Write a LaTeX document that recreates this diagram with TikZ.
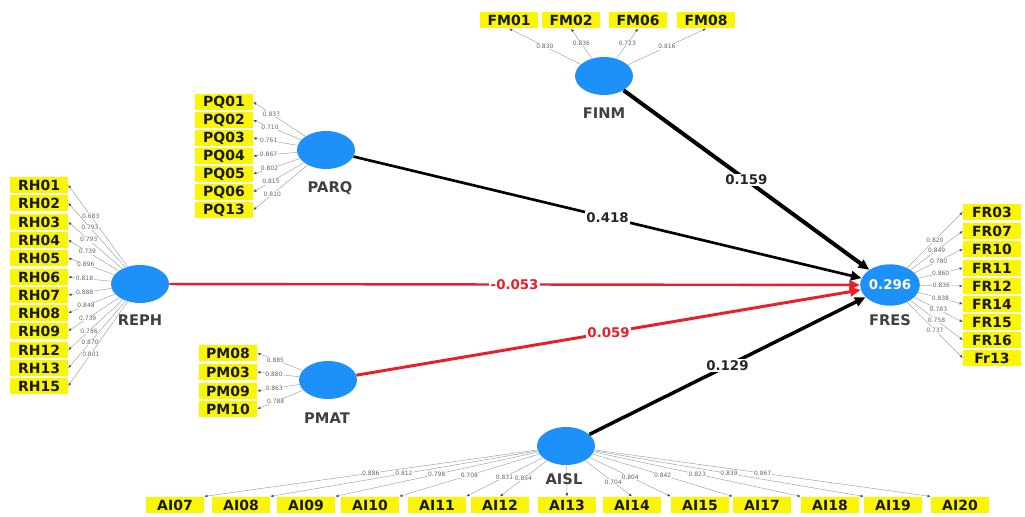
\documentclass[tikz,border=0pt]{standalone}
\usepackage{fontspec}
\setmainfont{DejaVu Sans}
\usetikzlibrary{arrows.meta,shapes.geometric}
\definecolor{lvblue}{RGB}{30,144,250}
\definecolor{mvyellow}{RGB}{250,245,0}
\definecolor{ldgray}{RGB}{160,160,165}
\definecolor{pathred}{RGB}{235,30,40}
\tikzset{
 lv/.style={ellipse, fill=lvblue, minimum width=43.5pt, minimum height=28.5pt, inner sep=0},
 mv/.style={rectangle, fill=mvyellow, minimum width=43.5pt, minimum height=12.5pt, inner sep=0,
   font=\fontsize{10.5}{12}\selectfont\bfseries, text=black!90},
 lvname/.style={font=\fontsize{11}{13}\selectfont\bfseries, text=black!75},
 ldline/.style={draw=ldgray, line width=0.35pt, -{Latex[length=2.4pt,width=2pt,color=black!70]}},
 ldlab/.style={font=\fontsize{4.5}{5}\selectfont, text=black!60, fill=white, inner sep=0.4pt},
 structarrow/.style={-{Triangle[length=8pt,width=7pt]}},
 coef/.style={font=\fontsize{10}{12}\selectfont\bfseries, fill=white, inner sep=1pt, text=black!85}
}
\begin{document}
\begin{tikzpicture}[x=0.75pt,y=-0.75pt]
\useasboundingbox (0,0) rectangle (1025,517);
\fill[white] (0,0) rectangle (1025,517);

% latent variables
\node[lv] (FINM) at (604,76) {};
\node[lv] (PARQ) at (326,150) {};
\node[lv] (REPH) at (140,284) {};
\node[lv, minimum width=39pt, minimum height=31pt, font=\fontsize{10}{12}\selectfont\bfseries, text=white] (FRES) at (890,285) {0.296};
\node[lv] (PMAT) at (328,380) {};
\node[lv] (AISL) at (566,446) {};

\node[lvname] (FINMn) at (604,113) {FINM};
\node[lvname] (PARQn) at (330,188) {PARQ};
\node[lvname] (REPHn) at (140,320) {REPH};
\node[lvname] (FRESn) at (890,320) {FRES};
\node[lvname] (PMATn) at (327,418) {PMAT};

% indicators
\foreach \n/\x in {FM01/509, FM02/571, FM06/638, FM08/706}
  \node[mv] (\n) at (\x,20) {\n};
\foreach \n/\y in {PQ01/102, PQ02/120, PQ03/138, PQ04/156, PQ05/174, PQ06/192, PQ13/210}
  \node[mv] (\n) at (224,\y) {\n};
\foreach \n/\y in {RH01/185, RH02/203, RH03/222, RH04/240, RH05/258, RH06/277, RH07/295, RH08/313, RH09/331, RH12/350, RH13/368, RH15/386}
  \node[mv] (\n) at (39,\y) {\n};
\foreach \n/\t/\y in {FR03/FR03/212, FR07/FR07/231, FR10/FR10/249, FR11/FR11/268, FR12/FR12/286, FR14/FR14/304, FR15/FR15/322, FR16/FR16/340, Fr13/Fr13/358}
  \node[mv] (\n) at (992,\y) {\t};
\foreach \n/\y in {PM08/353, PM03/372, PM09/391, PM10/409}
  \node[mv] (\n) at (228,\y) {\n};
\foreach \n/\x in {AI07/175, AI08/241, AI09/306, AI10/370, AI11/437, AI12/500, AI13/567, AI14/632, AI15/700, AI17/762, AI18/830, AI19/893, AI20/960}
  \node[mv] (\n) at (\x,505) {\n};

% outer loadings
\foreach \n/\v in {FM01/0.830, FM02/0.836, FM06/0.723, FM08/0.816}
  \draw[ldline] (FINM) -- node[ldlab, pos=0.5] {\v} (\n.south);
\foreach \n/\v in {PQ01/0.837, PQ02/0.710, PQ03/0.761, PQ04/0.867, PQ05/0.802, PQ06/0.815, PQ13/0.810}
  \draw[ldline] (PARQ) -- node[ldlab, pos=0.65] {\v} (\n.east);
\foreach \n/\v in {RH01/0.683, RH02/0.793, RH03/0.793, RH04/0.739, RH05/0.896, RH06/0.818, RH07/0.888, RH08/0.848, RH09/0.739, RH12/0.786, RH13/0.870, RH15/0.801}
  \draw[ldline] (REPH) -- node[ldlab, pos=0.62] {\v} (\n.east);
\foreach \n/\v in {FR03/0.820, FR07/0.849, FR10/0.780, FR11/0.860, FR12/0.836, FR14/0.838, FR15/0.783, FR16/0.758, Fr13/0.737}
  \draw[ldline] (FRES) -- node[ldlab, pos=0.5] {\v} (\n.west);
\foreach \n/\v in {PM08/0.885, PM03/0.880, PM09/0.863, PM10/0.788}
  \draw[ldline] (PMAT) -- node[ldlab, pos=0.6] {\v} (\n.east);
\foreach \n/\a/\v in {AI07/north east/0.886, AI08/north east/0.812, AI09/north east/0.798, AI10/north east/0.708, AI11/north east/0.831, AI12/north/0.854,
  AI15/north west/0.804, AI17/north west/0.842, AI18/north west/0.823, AI19/north west/0.839, AI20/north west/0.867}
  \draw[ldline] (AISL) -- node[ldlab, pos=0.5] {\v} (\n.\a);
\draw[ldline] (AISL) -- node[ldlab, pos=0.6] {0.704} (AI14.north);
\draw[ldline] (AISL) -- (AI13.north);

\node[lvname] (AISLn) at (564,479) {AISL};

% structural paths
\draw[structarrow, line width=3pt] (FINM) -- node[coef] {0.159} (FRES);
\draw[structarrow, line width=2pt] (PARQ) -- node[coef] {0.418} (FRES);
\draw[structarrow, draw=pathred, fill=pathred, line width=1.8pt] (REPH) -- node[coef, text=pathred] {-0.053} (FRES);
\draw[structarrow, draw=pathred, fill=pathred, line width=2.2pt] (PMAT) -- node[coef, text=pathred] {0.059} (FRES);
\draw[structarrow, line width=2.6pt] (AISL) -- node[coef] {0.129} (FRES);
\end{tikzpicture}
\end{document}
